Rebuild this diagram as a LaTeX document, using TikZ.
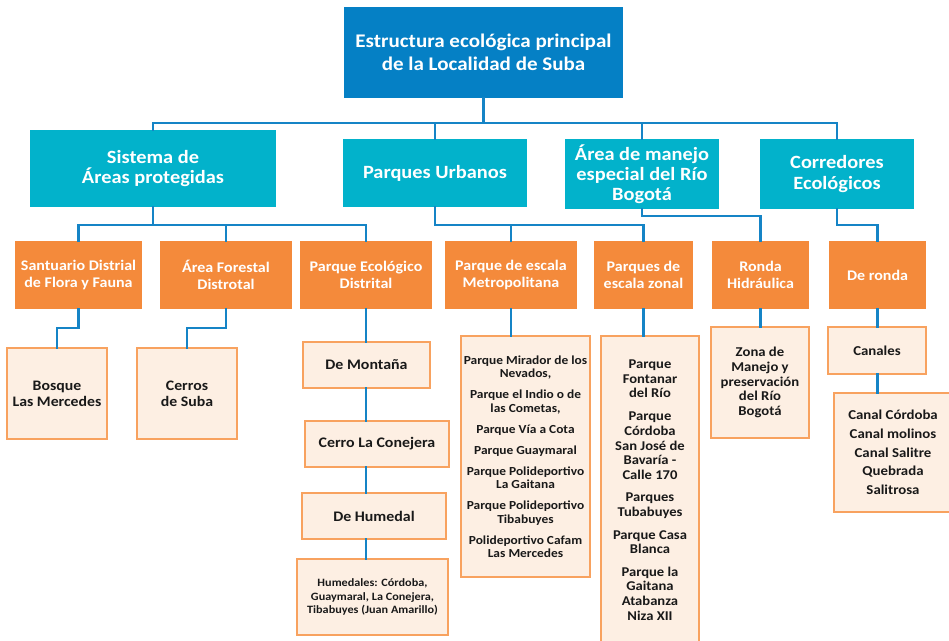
\documentclass[tikz,border=0pt]{standalone}
\usepackage{fontspec}
\setmainfont{Carlito}[FakeStretch=1.09]
\definecolor{topblue}{HTML}{0580C5}
\definecolor{teal}{HTML}{02B2CB}
\definecolor{orng}{HTML}{F48A3B}
\definecolor{peach}{HTML}{FDEFE3}
\definecolor{peachline}{HTML}{F8A25F}
\definecolor{connblue}{HTML}{1584C6}
\begin{document}
\begin{tikzpicture}[x=1pt,y=-1pt,
  every node/.style={inner sep=0pt, outer sep=0pt, align=center},
  topbox/.style={fill=topblue, text=white, font=\bfseries\fontsize{19.3}{22.5}\selectfont},
  secbox/.style={fill=teal, text=white, font=\bfseries\fontsize{18.7}{20.8}\selectfont},
  thirdbox/.style={fill=orng, text=white, minimum height=68pt, font=\bfseries\fontsize{14.7}{17}\selectfont},
  leafbox/.style={fill=peach, draw=peachline, line width=1.6pt, text=black!90},
  conn/.style={draw=connblue, line width=2.4pt, line cap=rect}
]
\useasboundingbox (0,0) rectangle (949,640);
\begin{scope}
\clip (0,0) rectangle (949,640);
% level 1
\node[topbox, minimum width=279pt, minimum height=91pt] (top) at (483.5,52.5) {Estructura ecológica principal\\de la Localidad de Suba};
% level 2
\node[secbox, minimum width=246pt, minimum height=77pt] (A) at (153,168.5) {Sistema de\\Áreas protegidas};
\node[secbox, minimum width=184pt, minimum height=68pt] (B) at (435,173) {Parques Urbanos};
\node[secbox, minimum width=154pt, minimum height=70pt, font=\bfseries\fontsize{18.7}{20}\selectfont] (C) at (642,174) {Área de manejo\\especial del Río\\Bogotá};
\node[secbox, minimum width=154pt, minimum height=70pt] (D) at (837,174) {Corredores\\Ecológicos};
% level 3
\node[thirdbox, minimum width=127pt] (S1) at (78.5,275) {Santuario Distrial\\de Flora y Fauna};
\node[thirdbox, minimum width=132pt] (S2) at (226,275) {Área Forestal\\Distrotal};
\node[thirdbox, minimum width=132pt] (S3) at (366,275) {Parque Ecológico\\Distrital};
\node[thirdbox, minimum width=132pt] (M) at (511,275) {Parque de escala\\Metropolitana};
\node[thirdbox, minimum width=99pt] (Z) at (643.5,275) {Parques de\\escala zonal};
\node[thirdbox, minimum width=97pt] (R) at (760.5,275) {Ronda\\Hidráulica};
\node[thirdbox, minimum width=97pt] (DR) at (877.5,275) {De ronda};
% level 4
\node[leafbox, minimum width=100pt, minimum height=91pt, font=\bfseries\fontsize{14.5}{16}\selectfont] (bosque) at (57,393.5) {Bosque\\Las Mercedes};
\node[leafbox, minimum width=100pt, minimum height=91pt, font=\bfseries\fontsize{14.5}{16}\selectfont] (cerros) at (187,393.5) {Cerros\\de Suba};
\node[leafbox, minimum width=127pt, minimum height=46pt, font=\bfseries\fontsize{14.6}{16}\selectfont] (mont) at (366.5,365) {De Montaña};
\node[leafbox, minimum width=144pt, minimum height=46pt, font=\bfseries\fontsize{14.6}{16}\selectfont] (conej) at (377,444) {Cerro La Conejera};
\node[leafbox, minimum width=144pt, minimum height=46pt, font=\bfseries\fontsize{14.6}{16}\selectfont] (humedal) at (374,516) {De Humedal};
\node[leafbox, minimum width=151pt, minimum height=76pt, font=\bfseries\fontsize{11.2}{13.5}\selectfont] (humedales) at (372.5,597) {Humedales: Córdoba,\\Guaymaral, La Conejera,\\Tibabuyes (Juan Amarillo)};
\node[leafbox, minimum width=129pt, minimum height=241pt, font=\bfseries\fontsize{12.3}{13.5}\selectfont] (mlist) at (525.5,456.5) {Parque Mirador de los\\Nevados,\\[7.5pt]Parque el Indio o de\\las Cometas,\\[7.5pt]Parque Vía a Cota\\[7.5pt]Parque Guaymaral\\[7.5pt]Parque Polideportivo\\La Gaitana\\[7.5pt]Parque Polideportivo\\Tibabuyes\\[7.5pt]Polideportivo Cafam\\Las Mercedes};
\node[leafbox, minimum width=98pt, minimum height=308pt, font=\bfseries\fontsize{13.4}{14.6}\selectfont] (zlist) at (650,490) {Parque\\Fontanar\\del Río\\[8.5pt]Parque\\Córdoba\\San José de\\Bavaría -\\Calle 170\\[8pt]Parques\\Tubabuyes\\[8pt]Parque Casa\\Blanca\\[8pt]Parque la\\Gaitana\\Atabanza\\Niza XII};
\node[leafbox, minimum width=98pt, minimum height=111pt, font=\bfseries\fontsize{13.5}{14.7}\selectfont] (zona) at (760,382.5) {Zona de\\Manejo y\\preservación\\del Río\\Bogotá};
\node[leafbox, minimum width=98pt, minimum height=47pt, font=\bfseries\fontsize{13.6}{16}\selectfont] (canales) at (877,350.5) {Canales};
\node[leafbox, minimum width=118pt, minimum height=119pt, font=\bfseries\fontsize{13.6}{18.7}\selectfont] (clist) at (893,452.5) {Canal Córdoba\\Canal molinos\\Canal Salitre\\Quebrada\\Salitrosa};
\end{scope}
% bus coordinates
\coordinate (bus1) at (0,123);
\coordinate (busA) at (0,225);
\coordinate (busC) at (0,216);
\coordinate (bus4) at (0,328);
% connectors level 1-2
\draw[conn] (top.south) -- (top.south |- bus1);
\draw[conn] (A.north) |- (D.north |- bus1) -- (D.north);
\draw[conn] (B.north) -- (B.north |- bus1);
\draw[conn] (C.north) -- (C.north |- bus1);
% level 2-3
\draw[conn] (A.south) -- (A.south |- busA);
\draw[conn] (S1.north) |- (S3.north |- busA) -- (S3.north);
\draw[conn] (S2.north) -- (S2.north |- busA);
\draw[conn] (B.south) |- (Z.north |- busA) -- (Z.north);
\draw[conn] (M.north) -- (M.north |- busA);
\draw[conn] (C.south) -- (C.south |- busC) -| (R.north);
\draw[conn] (D.south) -- (D.south |- busA) -| (DR.north);
% level 3-4
\draw[conn] (S1.south) -- (S1.south |- bus4) -| (bosque.north);
\draw[conn] (S2.south) -- (S2.south |- bus4) -| (cerros.north);
\draw[conn] (S3.south) -- (S3.south |- mont.north);
\draw[conn] (S3.south |- mont.south) -- (S3.south |- conej.north);
\draw[conn] (S3.south |- conej.south) -- (S3.south |- humedal.north);
\draw[conn] (S3.south |- humedal.south) -- (S3.south |- humedales.north);
\draw[conn] (M.south) -- (M.south |- mlist.north);
\draw[conn] (Z.south) -- (Z.south |- zlist.north);
\draw[conn] (R.south) -- (R.south |- zona.north);
\draw[conn] (DR.south) -- (DR.south |- canales.north);
\draw[conn] (DR.south |- canales.south) -- (DR.south |- clist.north);
\end{tikzpicture}
\end{document}
